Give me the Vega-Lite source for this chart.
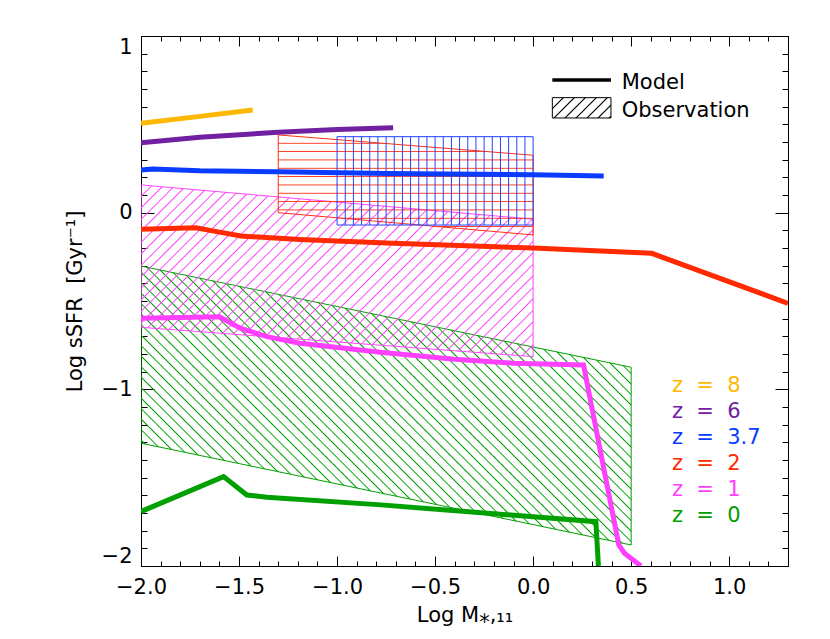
{
"$schema": "https://vega.github.io/schema/vega-lite/v6.json",
"width": 647, "height": 530,
"autosize": "none",
"padding": {"left": 141, "top": 36, "right": 42, "bottom": 73},
"background": "white",
"config": {
 "view": {"stroke": "black", "strokeWidth": 1},
 "axis": {"labelFont": "DejaVu Sans", "titleFont": "DejaVu Sans", "labelFontSize": 21, "titleFontSize": 21, "titleFontWeight": "normal", "labelColor": "black", "titleColor": "black", "tickColor": "black", "domainColor": "black", "grid": false, "tickWidth": 1},
 "text": {"font": "DejaVu Sans"}
},
"datasets": {
 "obs": [
  {"r": "z0", "x": -2, "y": -0.302, "y2": -1.305},
  {"r": "z0", "x": 0.5, "y": -0.875, "y2": -1.881},
  {"r": "z1", "x": -2, "y": 0.157, "y2": -0.649},
  {"r": "z1", "x": 0, "y": -0.037, "y2": -0.815},
  {"r": "z2", "x": -1.3, "y": 0.44, "y2": 0.0},
  {"r": "z2", "x": 0, "y": 0.325, "y2": -0.126},
  {"r": "z37", "x": -1, "y": 0.43, "y2": -0.07},
  {"r": "z37", "x": 0, "y": 0.43, "y2": -0.07},
  {"r": "key", "x": 0.098, "y": 0.651, "y2": 0.536},
  {"r": "key", "x": 0.397, "y": 0.651, "y2": 0.536}
 ],
 "model": [
  {"z": "8", "x": -2, "y": 0.506}, {"z": "8", "x": -1.7, "y": 0.545}, {"z": "8", "x": -1.43, "y": 0.581},
  {"z": "6", "x": -2, "y": 0.396}, {"z": "6", "x": -1.7, "y": 0.427}, {"z": "6", "x": -1.3, "y": 0.455}, {"z": "6", "x": -1.0, "y": 0.471}, {"z": "6", "x": -0.714, "y": 0.481},
  {"z": "3.7", "x": -2, "y": 0.242}, {"z": "3.7", "x": -1.94, "y": 0.247}, {"z": "3.7", "x": -1.7, "y": 0.237}, {"z": "3.7", "x": -1.3, "y": 0.231}, {"z": "3.7", "x": -0.75, "y": 0.222}, {"z": "3.7", "x": 0, "y": 0.215}, {"z": "3.7", "x": 0.36, "y": 0.208},
  {"z": "2", "x": -2, "y": -0.094}, {"z": "2", "x": -1.72, "y": -0.085}, {"z": "2", "x": -1.6, "y": -0.11}, {"z": "2", "x": -1.49, "y": -0.132}, {"z": "2", "x": -1.19, "y": -0.152}, {"z": "2", "x": -0.75, "y": -0.172}, {"z": "2", "x": 0, "y": -0.2}, {"z": "2", "x": 0.605, "y": -0.23}, {"z": "2", "x": 1.3, "y": -0.513},
  {"z": "1", "x": -2, "y": -0.598}, {"z": "1", "x": -1.6, "y": -0.589}, {"z": "1", "x": -1.494, "y": -0.654}, {"z": "1", "x": -1.358, "y": -0.702}, {"z": "1", "x": -1.189, "y": -0.739}, {"z": "1", "x": -0.78, "y": -0.79}, {"z": "1", "x": -0.4, "y": -0.83}, {"z": "1", "x": -0.103, "y": -0.852}, {"z": "1", "x": 0.257, "y": -0.862}, {"z": "1", "x": 0.437, "y": -1.881}, {"z": "1", "x": 0.466, "y": -1.928}, {"z": "1", "x": 0.55, "y": -2.0},
  {"z": "0", "x": -2, "y": -1.692}, {"z": "0", "x": -1.579, "y": -1.494}, {"z": "0", "x": -1.46, "y": -1.598}, {"z": "0", "x": -1.358, "y": -1.611}, {"z": "0", "x": -0.776, "y": -1.654}, {"z": "0", "x": 0.32, "y": -1.749}, {"z": "0", "x": 0.333, "y": -2.0}
 ],
 "zkey": [
  {"z": "8", "label": "z\u00a0\u00a0=\u00a0\u00a08", "x": 0.708, "y": -1.013},
  {"z": "6", "label": "z\u00a0\u00a0=\u00a0\u00a06", "x": 0.708, "y": -1.161},
  {"z": "3.7", "label": "z\u00a0\u00a0=\u00a0\u00a03.7", "x": 0.708, "y": -1.308},
  {"z": "2", "label": "z\u00a0\u00a0=\u00a0\u00a02", "x": 0.708, "y": -1.455},
  {"z": "1", "label": "z\u00a0\u00a0=\u00a0\u00a01", "x": 0.708, "y": -1.602},
  {"z": "0", "label": "z\u00a0\u00a0=\u00a0\u00a00", "x": 0.708, "y": -1.749}
 ],
 "keytext": [
  {"t": "Model", "x": 0.452, "y": 0.698},
  {"t": "Observation", "x": 0.452, "y": 0.543}
 ],
 "keyline": [
  {"x": 0.098, "y": 0.751}, {"x": 0.397, "y": 0.751}
 ]
},
"layer": [
 {
  "data": {"name": "obs"},
  "transform": [{"filter": "datum.r == 'z0'"}],
  "mark": {"type": "area", "stroke": "#00a000", "strokeWidth": 1, "clip": true,
   "fill": {"gradient": "linear", "x1": 0, "y1": 1, "x2": 1.6181, "y2": 0.0791, "stops": [
{"offset":0.0087,"color":"rgba(0,160,0,0)"},{"offset":0.01,"color":"#00a000"},{"offset":0.0113,"color":"rgba(0,160,0,0)"},
{"offset":0.0187,"color":"rgba(0,160,0,0)"},{"offset":0.02,"color":"#00a000"},{"offset":0.0213,"color":"rgba(0,160,0,0)"},
{"offset":0.0287,"color":"rgba(0,160,0,0)"},{"offset":0.03,"color":"#00a000"},{"offset":0.0313,"color":"rgba(0,160,0,0)"},
{"offset":0.0387,"color":"rgba(0,160,0,0)"},{"offset":0.04,"color":"#00a000"},{"offset":0.0413,"color":"rgba(0,160,0,0)"},
{"offset":0.0487,"color":"rgba(0,160,0,0)"},{"offset":0.05,"color":"#00a000"},{"offset":0.0513,"color":"rgba(0,160,0,0)"},
{"offset":0.0587,"color":"rgba(0,160,0,0)"},{"offset":0.06,"color":"#00a000"},{"offset":0.0613,"color":"rgba(0,160,0,0)"},
{"offset":0.0687,"color":"rgba(0,160,0,0)"},{"offset":0.07,"color":"#00a000"},{"offset":0.0713,"color":"rgba(0,160,0,0)"},
{"offset":0.0787,"color":"rgba(0,160,0,0)"},{"offset":0.08,"color":"#00a000"},{"offset":0.0813,"color":"rgba(0,160,0,0)"},
{"offset":0.0887,"color":"rgba(0,160,0,0)"},{"offset":0.09,"color":"#00a000"},{"offset":0.0913,"color":"rgba(0,160,0,0)"},
{"offset":0.0987,"color":"rgba(0,160,0,0)"},{"offset":0.10,"color":"#00a000"},{"offset":0.1013,"color":"rgba(0,160,0,0)"},
{"offset":0.1087,"color":"rgba(0,160,0,0)"},{"offset":0.11,"color":"#00a000"},{"offset":0.1113,"color":"rgba(0,160,0,0)"},
{"offset":0.1187,"color":"rgba(0,160,0,0)"},{"offset":0.12,"color":"#00a000"},{"offset":0.1213,"color":"rgba(0,160,0,0)"},
{"offset":0.1287,"color":"rgba(0,160,0,0)"},{"offset":0.13,"color":"#00a000"},{"offset":0.1313,"color":"rgba(0,160,0,0)"},
{"offset":0.1387,"color":"rgba(0,160,0,0)"},{"offset":0.14,"color":"#00a000"},{"offset":0.1413,"color":"rgba(0,160,0,0)"},
{"offset":0.1487,"color":"rgba(0,160,0,0)"},{"offset":0.15,"color":"#00a000"},{"offset":0.1513,"color":"rgba(0,160,0,0)"},
{"offset":0.1587,"color":"rgba(0,160,0,0)"},{"offset":0.16,"color":"#00a000"},{"offset":0.1613,"color":"rgba(0,160,0,0)"},
{"offset":0.1687,"color":"rgba(0,160,0,0)"},{"offset":0.17,"color":"#00a000"},{"offset":0.1713,"color":"rgba(0,160,0,0)"},
{"offset":0.1787,"color":"rgba(0,160,0,0)"},{"offset":0.18,"color":"#00a000"},{"offset":0.1813,"color":"rgba(0,160,0,0)"},
{"offset":0.1887,"color":"rgba(0,160,0,0)"},{"offset":0.19,"color":"#00a000"},{"offset":0.1913,"color":"rgba(0,160,0,0)"},
{"offset":0.1987,"color":"rgba(0,160,0,0)"},{"offset":0.20,"color":"#00a000"},{"offset":0.2013,"color":"rgba(0,160,0,0)"},
{"offset":0.2087,"color":"rgba(0,160,0,0)"},{"offset":0.21,"color":"#00a000"},{"offset":0.2113,"color":"rgba(0,160,0,0)"},
{"offset":0.2187,"color":"rgba(0,160,0,0)"},{"offset":0.22,"color":"#00a000"},{"offset":0.2213,"color":"rgba(0,160,0,0)"},
{"offset":0.2287,"color":"rgba(0,160,0,0)"},{"offset":0.23,"color":"#00a000"},{"offset":0.2313,"color":"rgba(0,160,0,0)"},
{"offset":0.2387,"color":"rgba(0,160,0,0)"},{"offset":0.24,"color":"#00a000"},{"offset":0.2413,"color":"rgba(0,160,0,0)"},
{"offset":0.2487,"color":"rgba(0,160,0,0)"},{"offset":0.25,"color":"#00a000"},{"offset":0.2513,"color":"rgba(0,160,0,0)"},
{"offset":0.2587,"color":"rgba(0,160,0,0)"},{"offset":0.26,"color":"#00a000"},{"offset":0.2613,"color":"rgba(0,160,0,0)"},
{"offset":0.2687,"color":"rgba(0,160,0,0)"},{"offset":0.27,"color":"#00a000"},{"offset":0.2713,"color":"rgba(0,160,0,0)"},
{"offset":0.2787,"color":"rgba(0,160,0,0)"},{"offset":0.28,"color":"#00a000"},{"offset":0.2813,"color":"rgba(0,160,0,0)"},
{"offset":0.2887,"color":"rgba(0,160,0,0)"},{"offset":0.29,"color":"#00a000"},{"offset":0.2913,"color":"rgba(0,160,0,0)"},
{"offset":0.2987,"color":"rgba(0,160,0,0)"},{"offset":0.30,"color":"#00a000"},{"offset":0.3013,"color":"rgba(0,160,0,0)"},
{"offset":0.3087,"color":"rgba(0,160,0,0)"},{"offset":0.31,"color":"#00a000"},{"offset":0.3113,"color":"rgba(0,160,0,0)"},
{"offset":0.3187,"color":"rgba(0,160,0,0)"},{"offset":0.32,"color":"#00a000"},{"offset":0.3213,"color":"rgba(0,160,0,0)"},
{"offset":0.3287,"color":"rgba(0,160,0,0)"},{"offset":0.33,"color":"#00a000"},{"offset":0.3313,"color":"rgba(0,160,0,0)"},
{"offset":0.3387,"color":"rgba(0,160,0,0)"},{"offset":0.34,"color":"#00a000"},{"offset":0.3413,"color":"rgba(0,160,0,0)"},
{"offset":0.3487,"color":"rgba(0,160,0,0)"},{"offset":0.35,"color":"#00a000"},{"offset":0.3513,"color":"rgba(0,160,0,0)"},
{"offset":0.3587,"color":"rgba(0,160,0,0)"},{"offset":0.36,"color":"#00a000"},{"offset":0.3613,"color":"rgba(0,160,0,0)"},
{"offset":0.3687,"color":"rgba(0,160,0,0)"},{"offset":0.37,"color":"#00a000"},{"offset":0.3713,"color":"rgba(0,160,0,0)"},
{"offset":0.3787,"color":"rgba(0,160,0,0)"},{"offset":0.38,"color":"#00a000"},{"offset":0.3813,"color":"rgba(0,160,0,0)"},
{"offset":0.3887,"color":"rgba(0,160,0,0)"},{"offset":0.39,"color":"#00a000"},{"offset":0.3913,"color":"rgba(0,160,0,0)"},
{"offset":0.3987,"color":"rgba(0,160,0,0)"},{"offset":0.40,"color":"#00a000"},{"offset":0.4013,"color":"rgba(0,160,0,0)"},
{"offset":0.4087,"color":"rgba(0,160,0,0)"},{"offset":0.41,"color":"#00a000"},{"offset":0.4113,"color":"rgba(0,160,0,0)"},
{"offset":0.4187,"color":"rgba(0,160,0,0)"},{"offset":0.42,"color":"#00a000"},{"offset":0.4213,"color":"rgba(0,160,0,0)"},
{"offset":0.4287,"color":"rgba(0,160,0,0)"},{"offset":0.43,"color":"#00a000"},{"offset":0.4313,"color":"rgba(0,160,0,0)"},
{"offset":0.4387,"color":"rgba(0,160,0,0)"},{"offset":0.44,"color":"#00a000"},{"offset":0.4413,"color":"rgba(0,160,0,0)"},
{"offset":0.4487,"color":"rgba(0,160,0,0)"},{"offset":0.45,"color":"#00a000"},{"offset":0.4513,"color":"rgba(0,160,0,0)"},
{"offset":0.4587,"color":"rgba(0,160,0,0)"},{"offset":0.46,"color":"#00a000"},{"offset":0.4613,"color":"rgba(0,160,0,0)"},
{"offset":0.4687,"color":"rgba(0,160,0,0)"},{"offset":0.47,"color":"#00a000"},{"offset":0.4713,"color":"rgba(0,160,0,0)"},
{"offset":0.4787,"color":"rgba(0,160,0,0)"},{"offset":0.48,"color":"#00a000"},{"offset":0.4813,"color":"rgba(0,160,0,0)"},
{"offset":0.4887,"color":"rgba(0,160,0,0)"},{"offset":0.49,"color":"#00a000"},{"offset":0.4913,"color":"rgba(0,160,0,0)"},
{"offset":0.4987,"color":"rgba(0,160,0,0)"},{"offset":0.50,"color":"#00a000"},{"offset":0.5013,"color":"rgba(0,160,0,0)"},
{"offset":0.5087,"color":"rgba(0,160,0,0)"},{"offset":0.51,"color":"#00a000"},{"offset":0.5113,"color":"rgba(0,160,0,0)"},
{"offset":0.5187,"color":"rgba(0,160,0,0)"},{"offset":0.52,"color":"#00a000"},{"offset":0.5213,"color":"rgba(0,160,0,0)"},
{"offset":0.5287,"color":"rgba(0,160,0,0)"},{"offset":0.53,"color":"#00a000"},{"offset":0.5313,"color":"rgba(0,160,0,0)"},
{"offset":0.5387,"color":"rgba(0,160,0,0)"},{"offset":0.54,"color":"#00a000"},{"offset":0.5413,"color":"rgba(0,160,0,0)"},
{"offset":0.5487,"color":"rgba(0,160,0,0)"},{"offset":0.55,"color":"#00a000"},{"offset":0.5513,"color":"rgba(0,160,0,0)"},
{"offset":0.5587,"color":"rgba(0,160,0,0)"},{"offset":0.56,"color":"#00a000"},{"offset":0.5613,"color":"rgba(0,160,0,0)"},
{"offset":0.5687,"color":"rgba(0,160,0,0)"},{"offset":0.57,"color":"#00a000"},{"offset":0.5713,"color":"rgba(0,160,0,0)"},
{"offset":0.5787,"color":"rgba(0,160,0,0)"},{"offset":0.58,"color":"#00a000"},{"offset":0.5813,"color":"rgba(0,160,0,0)"},
{"offset":0.5887,"color":"rgba(0,160,0,0)"},{"offset":0.59,"color":"#00a000"},{"offset":0.5913,"color":"rgba(0,160,0,0)"},
{"offset":0.5987,"color":"rgba(0,160,0,0)"},{"offset":0.60,"color":"#00a000"},{"offset":0.6013,"color":"rgba(0,160,0,0)"},
{"offset":0.6087,"color":"rgba(0,160,0,0)"},{"offset":0.61,"color":"#00a000"},{"offset":0.6113,"color":"rgba(0,160,0,0)"},
{"offset":0.6187,"color":"rgba(0,160,0,0)"},{"offset":0.62,"color":"#00a000"},{"offset":0.6213,"color":"rgba(0,160,0,0)"},
{"offset":0.6287,"color":"rgba(0,160,0,0)"},{"offset":0.63,"color":"#00a000"},{"offset":0.6313,"color":"rgba(0,160,0,0)"},
{"offset":0.6387,"color":"rgba(0,160,0,0)"},{"offset":0.64,"color":"#00a000"},{"offset":0.6413,"color":"rgba(0,160,0,0)"},
{"offset":0.6487,"color":"rgba(0,160,0,0)"},{"offset":0.65,"color":"#00a000"},{"offset":0.6513,"color":"rgba(0,160,0,0)"},
{"offset":0.6587,"color":"rgba(0,160,0,0)"},{"offset":0.66,"color":"#00a000"},{"offset":0.6613,"color":"rgba(0,160,0,0)"},
{"offset":0.6687,"color":"rgba(0,160,0,0)"},{"offset":0.67,"color":"#00a000"},{"offset":0.6713,"color":"rgba(0,160,0,0)"},
{"offset":0.6787,"color":"rgba(0,160,0,0)"},{"offset":0.68,"color":"#00a000"},{"offset":0.6813,"color":"rgba(0,160,0,0)"},
{"offset":0.6887,"color":"rgba(0,160,0,0)"},{"offset":0.69,"color":"#00a000"},{"offset":0.6913,"color":"rgba(0,160,0,0)"},
{"offset":0.6987,"color":"rgba(0,160,0,0)"},{"offset":0.70,"color":"#00a000"},{"offset":0.7013,"color":"rgba(0,160,0,0)"},
{"offset":0.7087,"color":"rgba(0,160,0,0)"},{"offset":0.71,"color":"#00a000"},{"offset":0.7113,"color":"rgba(0,160,0,0)"},
{"offset":0.7187,"color":"rgba(0,160,0,0)"},{"offset":0.72,"color":"#00a000"},{"offset":0.7213,"color":"rgba(0,160,0,0)"},
{"offset":0.7287,"color":"rgba(0,160,0,0)"},{"offset":0.73,"color":"#00a000"},{"offset":0.7313,"color":"rgba(0,160,0,0)"}
   ]}},
  "encoding": {
   "x": {"field": "x", "type": "quantitative", "scale": {"domain": [-2, 1.3], "nice": false, "zero": false},
    "axis": {"orient": "bottom", "values": [-2,-1.9,-1.8,-1.7,-1.6,-1.5,-1.4,-1.3,-1.2,-1.1,-1,-0.9,-0.8,-0.7,-0.6,-0.5,-0.4,-0.3,-0.2,-0.1,0,0.1,0.2,0.3,0.4,0.5,0.6,0.7,0.8,0.9,1,1.1,1.2,1.3],
     "format": ".1f", "labelExpr": "abs(datum.value*2-round(datum.value*2))<0.001 ? datum.label : ''",
     "tickSize": {"condition": {"test": "abs(datum.value*2-round(datum.value*2))<0.001", "value": -10}, "value": -5},
     "labelPadding": 20, "labelFlush": false, "labelOverlap": false, "labelBound": false,
     "title": "Log M\u204e,\u2081\u2081", "titlePadding": 2}},
   "y": {"field": "y", "type": "quantitative", "scale": {"domain": [-2, 1], "nice": false, "zero": false},
    "axis": {"orient": "left", "values": [-2,-1.9,-1.8,-1.7,-1.6,-1.5,-1.4,-1.3,-1.2,-1.1,-1,-0.9,-0.8,-0.7,-0.6,-0.5,-0.4,-0.3,-0.2,-0.1,0,0.1,0.2,0.3,0.4,0.5,0.6,0.7,0.8,0.9,1],
     "format": ".0f", "labelExpr": "abs(datum.value-round(datum.value))<0.001 ? datum.label : ''",
     "tickSize": {"condition": {"test": "abs(datum.value-round(datum.value))<0.001", "value": -13}, "value": -6},
     "labelPadding": 22, "labelFlush": true, "labelOverlap": false,
     "title": "Log sSFR\u00a0\u00a0[Gyr\u207b\u00b9]", "titlePadding": 16}},
   "y2": {"field": "y2"}
  }
 },
 {
  "data": {"name": "obs"},
  "transform": [{"filter": "datum.r == 'z1'"}],
  "mark": {"type": "area", "stroke": "#ff44ff", "strokeWidth": 1, "clip": true,
   "fill": {"gradient": "linear", "x1": 0, "y1": 0, "x2": 2.4608, "y2": 1.0777, "stops": [
{"offset":0.0088,"color":"rgba(255,68,255,0)"},{"offset":0.01,"color":"#ff44ff"},{"offset":0.0112,"color":"rgba(255,68,255,0)"},
{"offset":0.0188,"color":"rgba(255,68,255,0)"},{"offset":0.02,"color":"#ff44ff"},{"offset":0.0212,"color":"rgba(255,68,255,0)"},
{"offset":0.0288,"color":"rgba(255,68,255,0)"},{"offset":0.03,"color":"#ff44ff"},{"offset":0.0312,"color":"rgba(255,68,255,0)"},
{"offset":0.0388,"color":"rgba(255,68,255,0)"},{"offset":0.04,"color":"#ff44ff"},{"offset":0.0412,"color":"rgba(255,68,255,0)"},
{"offset":0.0488,"color":"rgba(255,68,255,0)"},{"offset":0.05,"color":"#ff44ff"},{"offset":0.0512,"color":"rgba(255,68,255,0)"},
{"offset":0.0588,"color":"rgba(255,68,255,0)"},{"offset":0.06,"color":"#ff44ff"},{"offset":0.0612,"color":"rgba(255,68,255,0)"},
{"offset":0.0688,"color":"rgba(255,68,255,0)"},{"offset":0.07,"color":"#ff44ff"},{"offset":0.0712,"color":"rgba(255,68,255,0)"},
{"offset":0.0788,"color":"rgba(255,68,255,0)"},{"offset":0.08,"color":"#ff44ff"},{"offset":0.0812,"color":"rgba(255,68,255,0)"},
{"offset":0.0888,"color":"rgba(255,68,255,0)"},{"offset":0.09,"color":"#ff44ff"},{"offset":0.0912,"color":"rgba(255,68,255,0)"},
{"offset":0.0988,"color":"rgba(255,68,255,0)"},{"offset":0.10,"color":"#ff44ff"},{"offset":0.1012,"color":"rgba(255,68,255,0)"},
{"offset":0.1088,"color":"rgba(255,68,255,0)"},{"offset":0.11,"color":"#ff44ff"},{"offset":0.1112,"color":"rgba(255,68,255,0)"},
{"offset":0.1188,"color":"rgba(255,68,255,0)"},{"offset":0.12,"color":"#ff44ff"},{"offset":0.1212,"color":"rgba(255,68,255,0)"},
{"offset":0.1288,"color":"rgba(255,68,255,0)"},{"offset":0.13,"color":"#ff44ff"},{"offset":0.1312,"color":"rgba(255,68,255,0)"},
{"offset":0.1388,"color":"rgba(255,68,255,0)"},{"offset":0.14,"color":"#ff44ff"},{"offset":0.1412,"color":"rgba(255,68,255,0)"},
{"offset":0.1488,"color":"rgba(255,68,255,0)"},{"offset":0.15,"color":"#ff44ff"},{"offset":0.1512,"color":"rgba(255,68,255,0)"},
{"offset":0.1588,"color":"rgba(255,68,255,0)"},{"offset":0.16,"color":"#ff44ff"},{"offset":0.1612,"color":"rgba(255,68,255,0)"},
{"offset":0.1688,"color":"rgba(255,68,255,0)"},{"offset":0.17,"color":"#ff44ff"},{"offset":0.1712,"color":"rgba(255,68,255,0)"},
{"offset":0.1788,"color":"rgba(255,68,255,0)"},{"offset":0.18,"color":"#ff44ff"},{"offset":0.1812,"color":"rgba(255,68,255,0)"},
{"offset":0.1888,"color":"rgba(255,68,255,0)"},{"offset":0.19,"color":"#ff44ff"},{"offset":0.1912,"color":"rgba(255,68,255,0)"},
{"offset":0.1988,"color":"rgba(255,68,255,0)"},{"offset":0.20,"color":"#ff44ff"},{"offset":0.2012,"color":"rgba(255,68,255,0)"},
{"offset":0.2088,"color":"rgba(255,68,255,0)"},{"offset":0.21,"color":"#ff44ff"},{"offset":0.2112,"color":"rgba(255,68,255,0)"},
{"offset":0.2188,"color":"rgba(255,68,255,0)"},{"offset":0.22,"color":"#ff44ff"},{"offset":0.2212,"color":"rgba(255,68,255,0)"},
{"offset":0.2288,"color":"rgba(255,68,255,0)"},{"offset":0.23,"color":"#ff44ff"},{"offset":0.2312,"color":"rgba(255,68,255,0)"},
{"offset":0.2388,"color":"rgba(255,68,255,0)"},{"offset":0.24,"color":"#ff44ff"},{"offset":0.2412,"color":"rgba(255,68,255,0)"},
{"offset":0.2488,"color":"rgba(255,68,255,0)"},{"offset":0.25,"color":"#ff44ff"},{"offset":0.2512,"color":"rgba(255,68,255,0)"},
{"offset":0.2588,"color":"rgba(255,68,255,0)"},{"offset":0.26,"color":"#ff44ff"},{"offset":0.2612,"color":"rgba(255,68,255,0)"},
{"offset":0.2688,"color":"rgba(255,68,255,0)"},{"offset":0.27,"color":"#ff44ff"},{"offset":0.2712,"color":"rgba(255,68,255,0)"},
{"offset":0.2788,"color":"rgba(255,68,255,0)"},{"offset":0.28,"color":"#ff44ff"},{"offset":0.2812,"color":"rgba(255,68,255,0)"},
{"offset":0.2888,"color":"rgba(255,68,255,0)"},{"offset":0.29,"color":"#ff44ff"},{"offset":0.2912,"color":"rgba(255,68,255,0)"},
{"offset":0.2988,"color":"rgba(255,68,255,0)"},{"offset":0.30,"color":"#ff44ff"},{"offset":0.3012,"color":"rgba(255,68,255,0)"},
{"offset":0.3088,"color":"rgba(255,68,255,0)"},{"offset":0.31,"color":"#ff44ff"},{"offset":0.3112,"color":"rgba(255,68,255,0)"},
{"offset":0.3188,"color":"rgba(255,68,255,0)"},{"offset":0.32,"color":"#ff44ff"},{"offset":0.3212,"color":"rgba(255,68,255,0)"},
{"offset":0.3288,"color":"rgba(255,68,255,0)"},{"offset":0.33,"color":"#ff44ff"},{"offset":0.3312,"color":"rgba(255,68,255,0)"},
{"offset":0.3388,"color":"rgba(255,68,255,0)"},{"offset":0.34,"color":"#ff44ff"},{"offset":0.3412,"color":"rgba(255,68,255,0)"},
{"offset":0.3488,"color":"rgba(255,68,255,0)"},{"offset":0.35,"color":"#ff44ff"},{"offset":0.3512,"color":"rgba(255,68,255,0)"},
{"offset":0.3588,"color":"rgba(255,68,255,0)"},{"offset":0.36,"color":"#ff44ff"},{"offset":0.3612,"color":"rgba(255,68,255,0)"},
{"offset":0.3688,"color":"rgba(255,68,255,0)"},{"offset":0.37,"color":"#ff44ff"},{"offset":0.3712,"color":"rgba(255,68,255,0)"},
{"offset":0.3788,"color":"rgba(255,68,255,0)"},{"offset":0.38,"color":"#ff44ff"},{"offset":0.3812,"color":"rgba(255,68,255,0)"},
{"offset":0.3888,"color":"rgba(255,68,255,0)"},{"offset":0.39,"color":"#ff44ff"},{"offset":0.3912,"color":"rgba(255,68,255,0)"},
{"offset":0.3988,"color":"rgba(255,68,255,0)"},{"offset":0.40,"color":"#ff44ff"},{"offset":0.4012,"color":"rgba(255,68,255,0)"},
{"offset":0.4088,"color":"rgba(255,68,255,0)"},{"offset":0.41,"color":"#ff44ff"},{"offset":0.4112,"color":"rgba(255,68,255,0)"},
{"offset":0.4188,"color":"rgba(255,68,255,0)"},{"offset":0.42,"color":"#ff44ff"},{"offset":0.4212,"color":"rgba(255,68,255,0)"},
{"offset":0.4288,"color":"rgba(255,68,255,0)"},{"offset":0.43,"color":"#ff44ff"},{"offset":0.4312,"color":"rgba(255,68,255,0)"},
{"offset":0.4388,"color":"rgba(255,68,255,0)"},{"offset":0.44,"color":"#ff44ff"},{"offset":0.4412,"color":"rgba(255,68,255,0)"},
{"offset":0.4488,"color":"rgba(255,68,255,0)"},{"offset":0.45,"color":"#ff44ff"},{"offset":0.4512,"color":"rgba(255,68,255,0)"},
{"offset":0.4588,"color":"rgba(255,68,255,0)"},{"offset":0.46,"color":"#ff44ff"},{"offset":0.4612,"color":"rgba(255,68,255,0)"},
{"offset":0.4688,"color":"rgba(255,68,255,0)"},{"offset":0.47,"color":"#ff44ff"},{"offset":0.4712,"color":"rgba(255,68,255,0)"},
{"offset":0.4788,"color":"rgba(255,68,255,0)"},{"offset":0.48,"color":"#ff44ff"},{"offset":0.4812,"color":"rgba(255,68,255,0)"},
{"offset":0.4888,"color":"rgba(255,68,255,0)"},{"offset":0.49,"color":"#ff44ff"},{"offset":0.4912,"color":"rgba(255,68,255,0)"}
   ]}},
  "encoding": {
   "x": {"field": "x", "type": "quantitative", "scale": {"domain": [-2, 1.3], "nice": false, "zero": false},
    "axis": {"orient": "top", "values": [-2,-1.9,-1.8,-1.7,-1.6,-1.5,-1.4,-1.3,-1.2,-1.1,-1,-0.9,-0.8,-0.7,-0.6,-0.5,-0.4,-0.3,-0.2,-0.1,0,0.1,0.2,0.3,0.4,0.5,0.6,0.7,0.8,0.9,1,1.1,1.2,1.3],
     "labels": false, "title": null,
     "tickSize": {"condition": {"test": "abs(datum.value*2-round(datum.value*2))<0.001", "value": -10}, "value": -5}}},
   "y": {"field": "y", "type": "quantitative", "scale": {"domain": [-2, 1], "nice": false, "zero": false},
    "axis": {"orient": "right", "values": [-2,-1.9,-1.8,-1.7,-1.6,-1.5,-1.4,-1.3,-1.2,-1.1,-1,-0.9,-0.8,-0.7,-0.6,-0.5,-0.4,-0.3,-0.2,-0.1,0,0.1,0.2,0.3,0.4,0.5,0.6,0.7,0.8,0.9,1],
     "labels": false, "title": null,
     "tickSize": {"condition": {"test": "abs(datum.value-round(datum.value))<0.001", "value": -13}, "value": -6}}},
   "y2": {"field": "y2"}
  }
 },
 {
  "data": {"name": "obs"},
  "transform": [{"filter": "datum.r == 'z2'"}],
  "mark": {"type": "area", "stroke": "#ff3010", "strokeWidth": 1, "clip": true,
   "fill": {"gradient": "linear", "x1": 0, "y1": 0, "x2": 0, "y2": 1, "stops": [
{"offset":0.0743,"color":"rgba(255,48,16,0)"},{"offset":0.0833,"color":"#ff3010"},{"offset":0.0923,"color":"rgba(255,48,16,0)"},
{"offset":0.1577,"color":"rgba(255,48,16,0)"},{"offset":0.1667,"color":"#ff3010"},{"offset":0.1757,"color":"rgba(255,48,16,0)"},
{"offset":0.241,"color":"rgba(255,48,16,0)"},{"offset":0.25,"color":"#ff3010"},{"offset":0.259,"color":"rgba(255,48,16,0)"},
{"offset":0.3243,"color":"rgba(255,48,16,0)"},{"offset":0.3333,"color":"#ff3010"},{"offset":0.3423,"color":"rgba(255,48,16,0)"},
{"offset":0.4077,"color":"rgba(255,48,16,0)"},{"offset":0.4167,"color":"#ff3010"},{"offset":0.4257,"color":"rgba(255,48,16,0)"},
{"offset":0.491,"color":"rgba(255,48,16,0)"},{"offset":0.5,"color":"#ff3010"},{"offset":0.509,"color":"rgba(255,48,16,0)"},
{"offset":0.5743,"color":"rgba(255,48,16,0)"},{"offset":0.5833,"color":"#ff3010"},{"offset":0.5923,"color":"rgba(255,48,16,0)"},
{"offset":0.6577,"color":"rgba(255,48,16,0)"},{"offset":0.6667,"color":"#ff3010"},{"offset":0.6757,"color":"rgba(255,48,16,0)"},
{"offset":0.741,"color":"rgba(255,48,16,0)"},{"offset":0.75,"color":"#ff3010"},{"offset":0.759,"color":"rgba(255,48,16,0)"},
{"offset":0.8243,"color":"rgba(255,48,16,0)"},{"offset":0.8333,"color":"#ff3010"},{"offset":0.8423,"color":"rgba(255,48,16,0)"},
{"offset":0.9077,"color":"rgba(255,48,16,0)"},{"offset":0.9167,"color":"#ff3010"},{"offset":0.9257,"color":"rgba(255,48,16,0)"}
   ]}},
  "encoding": {
   "x": {"field": "x", "type": "quantitative", "scale": {"domain": [-2, 1.3], "nice": false, "zero": false}, "axis": null},
   "y": {"field": "y", "type": "quantitative", "scale": {"domain": [-2, 1], "nice": false, "zero": false}, "axis": null},
   "y2": {"field": "y2"}
  }
 },
 {
  "data": {"name": "obs"},
  "transform": [{"filter": "datum.r == 'z37'"}],
  "mark": {"type": "area", "stroke": "#2040ff", "strokeWidth": 1, "clip": true,
   "fill": {"gradient": "linear", "x1": 0, "y1": 0, "x2": 1, "y2": 0, "stops": [
{"offset":0.0367,"color":"rgba(32,64,255,0)"},{"offset":0.0417,"color":"#2040ff"},{"offset":0.0467,"color":"rgba(32,64,255,0)"},
{"offset":0.0783,"color":"rgba(32,64,255,0)"},{"offset":0.0833,"color":"#2040ff"},{"offset":0.0883,"color":"rgba(32,64,255,0)"},
{"offset":0.12,"color":"rgba(32,64,255,0)"},{"offset":0.125,"color":"#2040ff"},{"offset":0.13,"color":"rgba(32,64,255,0)"},
{"offset":0.1617,"color":"rgba(32,64,255,0)"},{"offset":0.1667,"color":"#2040ff"},{"offset":0.1717,"color":"rgba(32,64,255,0)"},
{"offset":0.2033,"color":"rgba(32,64,255,0)"},{"offset":0.2083,"color":"#2040ff"},{"offset":0.2133,"color":"rgba(32,64,255,0)"},
{"offset":0.245,"color":"rgba(32,64,255,0)"},{"offset":0.25,"color":"#2040ff"},{"offset":0.255,"color":"rgba(32,64,255,0)"},
{"offset":0.2867,"color":"rgba(32,64,255,0)"},{"offset":0.2917,"color":"#2040ff"},{"offset":0.2967,"color":"rgba(32,64,255,0)"},
{"offset":0.3283,"color":"rgba(32,64,255,0)"},{"offset":0.3333,"color":"#2040ff"},{"offset":0.3383,"color":"rgba(32,64,255,0)"},
{"offset":0.37,"color":"rgba(32,64,255,0)"},{"offset":0.375,"color":"#2040ff"},{"offset":0.38,"color":"rgba(32,64,255,0)"},
{"offset":0.4117,"color":"rgba(32,64,255,0)"},{"offset":0.4167,"color":"#2040ff"},{"offset":0.4217,"color":"rgba(32,64,255,0)"},
{"offset":0.4533,"color":"rgba(32,64,255,0)"},{"offset":0.4583,"color":"#2040ff"},{"offset":0.4633,"color":"rgba(32,64,255,0)"},
{"offset":0.495,"color":"rgba(32,64,255,0)"},{"offset":0.5,"color":"#2040ff"},{"offset":0.505,"color":"rgba(32,64,255,0)"},
{"offset":0.5367,"color":"rgba(32,64,255,0)"},{"offset":0.5417,"color":"#2040ff"},{"offset":0.5467,"color":"rgba(32,64,255,0)"},
{"offset":0.5783,"color":"rgba(32,64,255,0)"},{"offset":0.5833,"color":"#2040ff"},{"offset":0.5883,"color":"rgba(32,64,255,0)"},
{"offset":0.62,"color":"rgba(32,64,255,0)"},{"offset":0.625,"color":"#2040ff"},{"offset":0.63,"color":"rgba(32,64,255,0)"},
{"offset":0.6617,"color":"rgba(32,64,255,0)"},{"offset":0.6667,"color":"#2040ff"},{"offset":0.6717,"color":"rgba(32,64,255,0)"},
{"offset":0.7033,"color":"rgba(32,64,255,0)"},{"offset":0.7083,"color":"#2040ff"},{"offset":0.7133,"color":"rgba(32,64,255,0)"},
{"offset":0.745,"color":"rgba(32,64,255,0)"},{"offset":0.75,"color":"#2040ff"},{"offset":0.755,"color":"rgba(32,64,255,0)"},
{"offset":0.7867,"color":"rgba(32,64,255,0)"},{"offset":0.7917,"color":"#2040ff"},{"offset":0.7967,"color":"rgba(32,64,255,0)"},
{"offset":0.8283,"color":"rgba(32,64,255,0)"},{"offset":0.8333,"color":"#2040ff"},{"offset":0.8383,"color":"rgba(32,64,255,0)"},
{"offset":0.87,"color":"rgba(32,64,255,0)"},{"offset":0.875,"color":"#2040ff"},{"offset":0.88,"color":"rgba(32,64,255,0)"},
{"offset":0.9117,"color":"rgba(32,64,255,0)"},{"offset":0.9167,"color":"#2040ff"},{"offset":0.9217,"color":"rgba(32,64,255,0)"},
{"offset":0.9533,"color":"rgba(32,64,255,0)"},{"offset":0.9583,"color":"#2040ff"},{"offset":0.9633,"color":"rgba(32,64,255,0)"}
   ]}},
  "encoding": {
   "x": {"field": "x", "type": "quantitative", "scale": {"domain": [-2, 1.3], "nice": false, "zero": false}, "axis": null},
   "y": {"field": "y", "type": "quantitative", "scale": {"domain": [-2, 1], "nice": false, "zero": false}, "axis": null},
   "y2": {"field": "y2"}
  }
 },
 {
  "data": {"name": "obs"},
  "transform": [{"filter": "datum.r == 'key'"}],
  "mark": {"type": "area", "stroke": "black", "strokeWidth": 1,
   "fill": {"gradient": "linear", "x1": 0, "y1": 0, "x2": 1.676, "y2": 0.5806, "stops": [
{"offset":0.087,"color":"rgba(0,0,0,0)"},{"offset":0.1,"color":"#000000"},{"offset":0.113,"color":"rgba(0,0,0,0)"},
{"offset":0.187,"color":"rgba(0,0,0,0)"},{"offset":0.2,"color":"#000000"},{"offset":0.213,"color":"rgba(0,0,0,0)"},
{"offset":0.287,"color":"rgba(0,0,0,0)"},{"offset":0.3,"color":"#000000"},{"offset":0.313,"color":"rgba(0,0,0,0)"},
{"offset":0.387,"color":"rgba(0,0,0,0)"},{"offset":0.4,"color":"#000000"},{"offset":0.413,"color":"rgba(0,0,0,0)"},
{"offset":0.487,"color":"rgba(0,0,0,0)"},{"offset":0.5,"color":"#000000"},{"offset":0.513,"color":"rgba(0,0,0,0)"},
{"offset":0.587,"color":"rgba(0,0,0,0)"},{"offset":0.6,"color":"#000000"},{"offset":0.613,"color":"rgba(0,0,0,0)"},
{"offset":0.687,"color":"rgba(0,0,0,0)"},{"offset":0.7,"color":"#000000"},{"offset":0.713,"color":"rgba(0,0,0,0)"}
   ]}},
  "encoding": {
   "x": {"field": "x", "type": "quantitative", "scale": {"domain": [-2, 1.3], "nice": false, "zero": false}, "axis": null},
   "y": {"field": "y", "type": "quantitative", "scale": {"domain": [-2, 1], "nice": false, "zero": false}, "axis": null},
   "y2": {"field": "y2"}
  }
 },
 {
  "data": {"name": "model"},
  "mark": {"type": "line", "strokeWidth": 5, "clip": true},
  "encoding": {
   "x": {"field": "x", "type": "quantitative", "scale": {"domain": [-2, 1.3], "nice": false, "zero": false}, "axis": null},
   "y": {"field": "y", "type": "quantitative", "scale": {"domain": [-2, 1], "nice": false, "zero": false}, "axis": null},
   "color": {"field": "z", "type": "nominal", "scale": {"domain": ["8", "6", "3.7", "2", "1", "0"], "range": ["#ffb800", "#7020a0", "#0a3cff", "#ff2a00", "#ff40ff", "#00a000"]}, "legend": null}
  }
 },
 {
  "data": {"name": "keyline"},
  "mark": {"type": "line", "strokeWidth": 3.5, "color": "black"},
  "encoding": {
   "x": {"field": "x", "type": "quantitative", "scale": {"domain": [-2, 1.3], "nice": false, "zero": false}, "axis": null},
   "y": {"field": "y", "type": "quantitative", "scale": {"domain": [-2, 1], "nice": false, "zero": false}, "axis": null}
  }
 },
 {
  "data": {"name": "zkey"},
  "mark": {"type": "text", "align": "left", "baseline": "alphabetic", "fontSize": 21},
  "encoding": {
   "x": {"field": "x", "type": "quantitative", "scale": {"domain": [-2, 1.3], "nice": false, "zero": false}, "axis": null},
   "y": {"field": "y", "type": "quantitative", "scale": {"domain": [-2, 1], "nice": false, "zero": false}, "axis": null},
   "text": {"field": "label"},
   "color": {"field": "z", "type": "nominal", "scale": {"domain": ["8", "6", "3.7", "2", "1", "0"], "range": ["#ffb800", "#7020a0", "#0a3cff", "#ff2a00", "#ff40ff", "#00a000"]}, "legend": null}
  }
 },
 {
  "data": {"name": "keytext"},
  "mark": {"type": "text", "align": "left", "baseline": "alphabetic", "fontSize": 21, "color": "black"},
  "encoding": {
   "x": {"field": "x", "type": "quantitative", "scale": {"domain": [-2, 1.3], "nice": false, "zero": false}, "axis": null},
   "y": {"field": "y", "type": "quantitative", "scale": {"domain": [-2, 1], "nice": false, "zero": false}, "axis": null},
   "text": {"field": "t"}
  }
 }
],
"resolve": {"axis": {"x": "independent", "y": "independent"}}
}
